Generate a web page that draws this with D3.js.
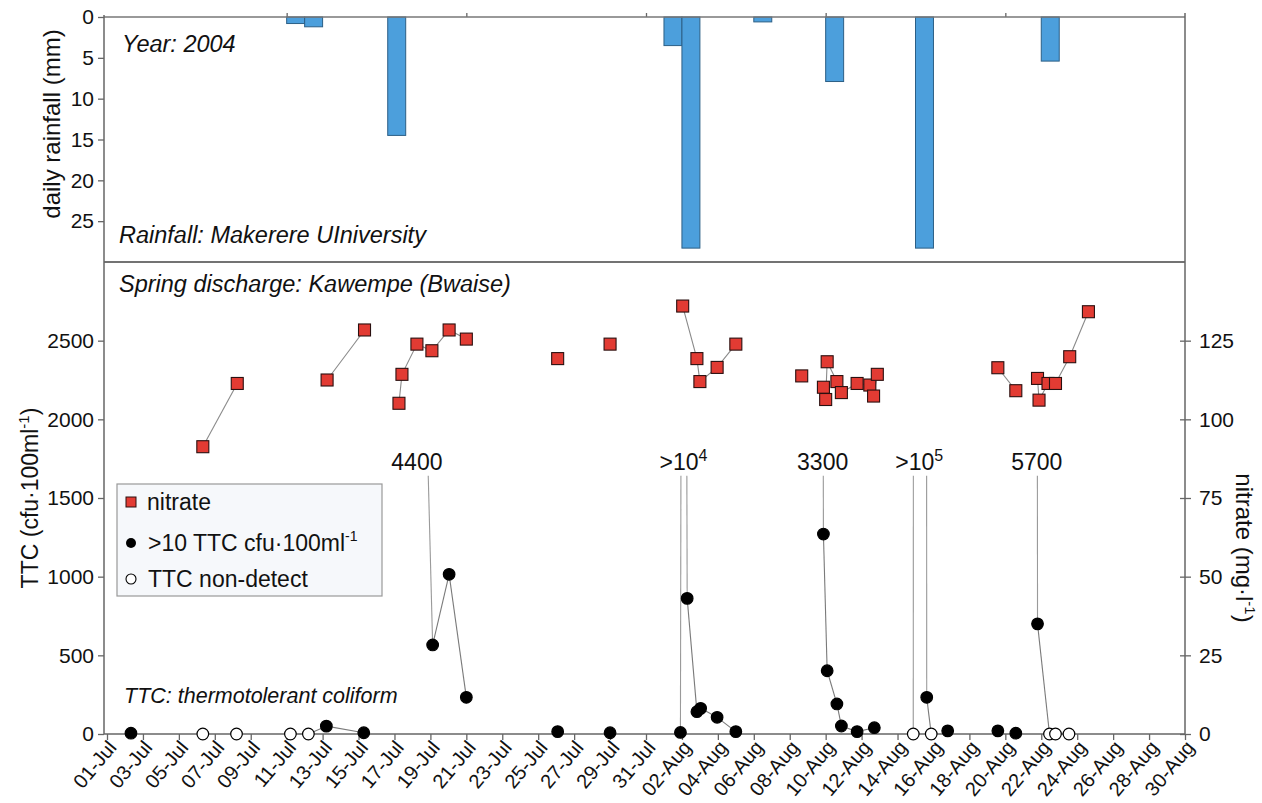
<!DOCTYPE html>
<html><head><meta charset="utf-8">
<script src="https://cdn.jsdelivr.net/npm/d3@7"></script>
<style>
body{margin:0;background:#fff}
svg{display:block}
text{font-family:"Liberation Sans",Arial,sans-serif;fill:#111}
</style>
</head><body>
<svg id="chart" width="1262" height="803"></svg>
<script>
// ---------------- data ----------------
const dateTicks = d3.range(0, 61, 2); // days after 01-Jul, labelled every 2 days
const rainDates = ["2004-07-11T00","2004-07-12T00","2004-07-16T15","2004-08-01T00","2004-08-02T00","2004-08-06T00","2004-08-10T00","2004-08-15T00","2004-08-22T00"];
const rainMm    = [0.8, 1.2, 14.5, 3.5, 28.3, 0.6, 7.9, 28.3, 5.4];
const rainTicks = [0, 5, 10, 15, 20, 25];

const nitrateDates = [
  "2004-07-06T08","2004-07-08T06",
  "2004-07-13T06","2004-07-15T08",
  "2004-07-17T06","2004-07-17T10","2004-07-18T06","2004-07-19T02","2004-07-20T01","2004-07-21T00",
  "2004-07-26T02","2004-07-29T00",
  "2004-08-02T01","2004-08-02T20","2004-08-03T00","2004-08-03T23","2004-08-05T00",
  "2004-08-08T16",
  "2004-08-09T21","2004-08-10T00","2004-08-10T02","2004-08-10T15","2004-08-10T21","2004-08-11T18","2004-08-12T11","2004-08-12T16","2004-08-12T21",
  "2004-08-19T14","2004-08-20T14",
  "2004-08-21T19","2004-08-21T21","2004-08-22T09","2004-08-22T19","2004-08-23T14","2004-08-24T15"];
const nitrateValues = [
  91.3, 111.4,
  112.5, 128.4,
  105.1, 114.3, 123.9, 121.8, 128.4, 125.5,
  119.3, 123.9,
  136.0, 119.3, 112.0, 116.5, 123.9,
  113.8,
  110.2, 106.3, 118.3, 112.0, 108.5, 111.4, 110.9, 107.4, 114.3,
  116.4, 109.1,
  113.0, 106.1, 111.4, 111.4, 119.9, 134.2];
const nitrateEvent = [1,1, 2,2, 3,3,3,3,3,3, 4,5, 6,6,6,6,6, 7, 8,8,8,8,8,8,8,8,8, 9,9, 10,10,10,10,10,10];

// TTC: status "det" = >10 cfu, "nd" = non-detect, "exc" = exceeds axis (value is the reported count)
const ttcDates = [
  "2004-07-02T08",
  "2004-07-06T08","2004-07-08T05",
  "2004-07-11T05","2004-07-12T05","2004-07-13T05","2004-07-15T07",
  "2004-07-18T06","2004-07-19T03","2004-07-20T01","2004-07-21T00",
  "2004-07-26T02","2004-07-29T00",
  "2004-08-01T22","2004-08-02T02","2004-08-02T07","2004-08-02T20","2004-08-03T01","2004-08-03T23","2004-08-05T00",
  "2004-08-09T20","2004-08-09T21","2004-08-10T02","2004-08-10T15","2004-08-10T21","2004-08-11T18","2004-08-12T17",
  "2004-08-14T21","2004-08-15T05","2004-08-15T15","2004-08-15T21",
  "2004-08-16T19","2004-08-19T14","2004-08-20T14",
  "2004-08-21T18","2004-08-21T19","2004-08-22T11","2004-08-22T19","2004-08-23T13"];
const ttcValues = [
  5,
  0, 0,
  0, 0, 50, 8,
  4400, 566, 1015, 233,
  15, 8,
  10, 10000, 862, 142, 163, 106, 15,
  3300, 1271, 402, 191, 51, 15, 40,
  0, 100000, 233, 0,
  20, 20, 5,
  5700, 700, 0, 0, 0];
const ttcStatus = [
  "det",
  "nd","nd",
  "nd","nd","det","det",
  "exc","det","det","det",
  "det","det",
  "det","exc","det","det","det","det","det",
  "exc","det","det","det","det","det","det",
  "nd","exc","det","nd",
  "det","det","det",
  "exc","det","nd","nd","nd"];
const ttcEvent = [1, 2,3, 4,4,4,4, 5,5,5,5, 6,7, 8,8,8,8,8,8,8, 9,9,9,9,9,9,9, 10,10,10,10, 11,12,13, 14,14,14,14,14];

const ttcTicks = [0, 500, 1000, 1500, 2000, 2500];
const nitrateTicks = [0, 25, 50, 75, 100, 125];

// ---------------- layout ----------------
const svg = d3.select("#chart");
const parse = d3.timeParse("%Y-%m-%dT%H");
const start = new Date(2004, 6, 1);
const L = 104, R = 1185;
const topY0 = 17, midY = 262, baseY = 734;

const x = d3.scaleTime().domain([start, new Date(2004, 7, 30)]).range([107, 1185]);
const yRain = d3.scaleLinear().domain([0, 30]).range([topY0, midY]);
const yTTC = d3.scaleLinear().domain([0, 3000]).range([baseY, midY]);
const yNit = d3.scaleLinear().domain([0, 150]).range([baseY, midY]);

const axisColor = "#666";
const font = '"Liberation Sans",Arial,sans-serif';

function styleAxis(g, fs) {
  g.selectAll("path.domain").remove();
  g.selectAll("line").attr("stroke", axisColor).attr("stroke-width", 1.3);
  g.selectAll("text").attr("font-size", fs).attr("font-family", font).attr("fill", "#111");
}

// ----- top panel: rainfall -----
svg.append("g").selectAll("rect").data(rainDates.map((d, i) => ({d: parse(d), v: rainMm[i]})))
  .join("rect")
  .attr("x", d => x(d.d))
  .attr("width", d => x(d3.timeDay.offset(d.d, 1)) - x(d.d))
  .attr("y", yRain(0))
  .attr("height", d => yRain(d.v) - yRain(0))
  .attr("fill", "#4c9fdc")
  .attr("stroke", "#2c5f86")
  .attr("stroke-width", 1);

// top axis line (0 mm) with small ticks every 10 days
const gTopX = svg.append("g").attr("transform", `translate(0,${topY0})`)
  .call(d3.axisTop(x).tickValues([10, 20, 30, 40, 50].map(d => d3.timeDay.offset(start, d))).tickSize(4).tickFormat(""));
styleAxis(gTopX, 0);
svg.append("line").attr("x1", L).attr("x2", R).attr("y1", topY0).attr("y2", topY0).attr("stroke", "#777").attr("stroke-width", 1.5);

const gRain = svg.append("g").attr("transform", `translate(${L},0)`)
  .call(d3.axisLeft(yRain).tickValues(rainTicks).tickSize(6).tickPadding(4).tickFormat(d3.format("d")));
styleAxis(gRain, 21);

// panel divider
svg.append("line").attr("x1", L).attr("x2", R).attr("y1", midY).attr("y2", midY).attr("stroke", "#444").attr("stroke-width", 1.5);

// ----- bottom panel -----
const gX = svg.append("g").attr("transform", `translate(0,${baseY})`)
  .call(d3.axisBottom(x).tickValues(dateTicks.map(d => d3.timeDay.offset(start, d))).tickSize(6).tickFormat(d3.timeFormat("%d-%b")));
styleAxis(gX, 20);
gX.selectAll("text")
  .attr("text-anchor", "end")
  .attr("dy", 0)
  .attr("transform", "translate(10,14) rotate(-50)")
  .attr("y", 0).attr("x", 0);
svg.append("line").attr("x1", L).attr("x2", R).attr("y1", baseY).attr("y2", baseY).attr("stroke", axisColor).attr("stroke-width", 1.5);

const gYL = svg.append("g").attr("transform", `translate(${L},0)`)
  .call(d3.axisLeft(yTTC).tickValues(ttcTicks).tickSize(6).tickPadding(4).tickFormat(d3.format("d")));
styleAxis(gYL, 21);
const gYR = svg.append("g").attr("transform", `translate(${R},0)`)
  .call(d3.axisRight(yNit).tickValues(nitrateTicks).tickSize(6).tickPadding(8).tickFormat(d3.format("d")));
styleAxis(gYR, 21);
gYR.selectAll("line").attr("x1", -5);

// axis lines
svg.append("line").attr("x1", L).attr("x2", L).attr("y1", topY0 - 2).attr("y2", baseY).attr("stroke", axisColor).attr("stroke-width", 1.5);
svg.append("line").attr("x1", R).attr("x2", R).attr("y1", topY0 - 4).attr("y2", baseY).attr("stroke", axisColor).attr("stroke-width", 1.5);

// clip for TTC lines (cut where the exceedance labels sit)
const labelBase = yTTC(1680);
svg.append("clipPath").attr("id", "ttcclip").append("rect")
  .attr("x", L).attr("y", labelBase + 6).attr("width", R - L).attr("height", baseY - labelBase);

// nitrate lines
const nit = nitrateDates.map((d, i) => ({d: parse(d), v: nitrateValues[i], e: nitrateEvent[i]}));
const nitLine = d3.line().x(d => x(d.d)).y(d => yNit(d.v));
svg.append("g").selectAll("path").data(d3.groups(nit, d => d.e).map(g => g[1]).filter(g => g.length > 1))
  .join("path").attr("d", nitLine).attr("fill", "none").attr("stroke", "#8a8a8a").attr("stroke-width", 1.1);

// TTC lines
const ttc = ttcDates.map((d, i) => ({d: parse(d), v: ttcValues[i], s: ttcStatus[i], e: ttcEvent[i]}));
const ttcLine = d3.line().x(d => x(d.d)).y(d => yTTC(d.v));
const ttcGroups = d3.groups(ttc, d => d.e).map(g => g[1]).filter(g => g.length > 1);
const segs = [];
ttcGroups.forEach(g => { for (let i = 1; i < g.length; i++) segs.push([g[i - 1], g[i]]); });
svg.append("g").attr("clip-path", "url(#ttcclip)").selectAll("path").data(segs)
  .join("path").attr("d", ttcLine).attr("fill", "none")
  .attr("stroke", s => (s[0].s === "exc" || s[1].s === "exc") ? "#9a9a9a" : "#7a7a7a")
  .attr("stroke-width", 1.1);

// exceedance labels
const exc = ttc.filter(d => d.s === "exc");
const excText = svg.append("g").selectAll("text").data(exc).join("text")
  .attr("x", d => x(d.d)).attr("y", labelBase)
  .attr("text-anchor", "middle").attr("font-size", 23);
excText.each(function(d) {
  const t = d3.select(this);
  if (d.v >= 10000) {
    t.append("tspan").text(">10");
    t.append("tspan").attr("dy", -9).attr("font-size", 16).text(String(Math.round(Math.log10(d.v))));
  } else t.text(String(d.v));
});

// nitrate squares
const sq = 12;
svg.append("g").selectAll("rect").data(nit).join("rect")
  .attr("x", d => x(d.d) - sq / 2).attr("y", d => yNit(d.v) - sq / 2)
  .attr("width", sq).attr("height", sq)
  .attr("fill", "#e23b33").attr("stroke", "#2a1010").attr("stroke-width", 1.1);

// TTC circles
svg.append("g").selectAll("circle").data(ttc.filter(d => d.s !== "exc")).join("circle")
  .attr("cx", d => x(d.d)).attr("cy", d => yTTC(d.v)).attr("r", 5.8)
  .attr("fill", d => d.s === "nd" ? "#fff" : "#000")
  .attr("stroke", "#000").attr("stroke-width", 1.2);

// ----- annotations -----
const note = (t, xx, yy, fs) => svg.append("text").attr("x", xx).attr("y", yy).attr("font-size", fs).attr("font-style", "italic").text(t);
note("Year: 2004", 122, 52, 23.5);
note("Rainfall: Makerere UIniversity", 119, 243, 23.5);
note("Spring discharge: Kawempe (Bwaise)", 119, 292, 23.5);
note("TTC: thermotolerant coliform", 124, 703, 21.5);

// axis titles
svg.append("text").attr("transform", "translate(60,124) rotate(-90)").attr("text-anchor", "middle").attr("font-size", 24).text("daily rainfall (mm)");
const tl = svg.append("text").attr("transform", "translate(38,498) rotate(-90)").attr("text-anchor", "middle").attr("font-size", 23);
tl.append("tspan").text("TTC (cfu·100ml");
tl.append("tspan").attr("dy", -9).attr("font-size", 15).text("-1");
tl.append("tspan").attr("dy", 9).text(")");
const tr = svg.append("text").attr("transform", "translate(1236,548) rotate(90)").attr("text-anchor", "middle").attr("font-size", 24);
tr.append("tspan").text("nitrate (mg·l");
tr.append("tspan").attr("dy", -9).attr("font-size", 15).text("-1");
tr.append("tspan").attr("dy", 9).text(")");

// legend
const lg = svg.append("g");
lg.append("rect").attr("x", 117).attr("y", 484).attr("width", 265).attr("height", 112)
  .attr("fill", "#f6f8fb").attr("stroke", "#999").attr("stroke-width", 1.2);
lg.append("rect").attr("x", 126).attr("y", 497).attr("width", 10).attr("height", 10)
  .attr("fill", "#e23b33").attr("stroke", "#2a1010").attr("stroke-width", 1);
lg.append("text").attr("x", 147).attr("y", 510).attr("font-size", 23).text("nitrate");
lg.append("circle").attr("cx", 131).attr("cy", 543).attr("r", 5).attr("fill", "#000");
const l2 = lg.append("text").attr("x", 148).attr("y", 551).attr("font-size", 23);
l2.append("tspan").text(">10 TTC cfu·100ml");
l2.append("tspan").attr("dy", -10).attr("font-size", 14).text("-1");
lg.append("circle").attr("cx", 131).attr("cy", 579).attr("r", 5).attr("fill", "#fff").attr("stroke", "#000").attr("stroke-width", 1.1);
lg.append("text").attr("x", 148).attr("y", 587).attr("font-size", 23).text("TTC non-detect");
</script>
</body></html>
